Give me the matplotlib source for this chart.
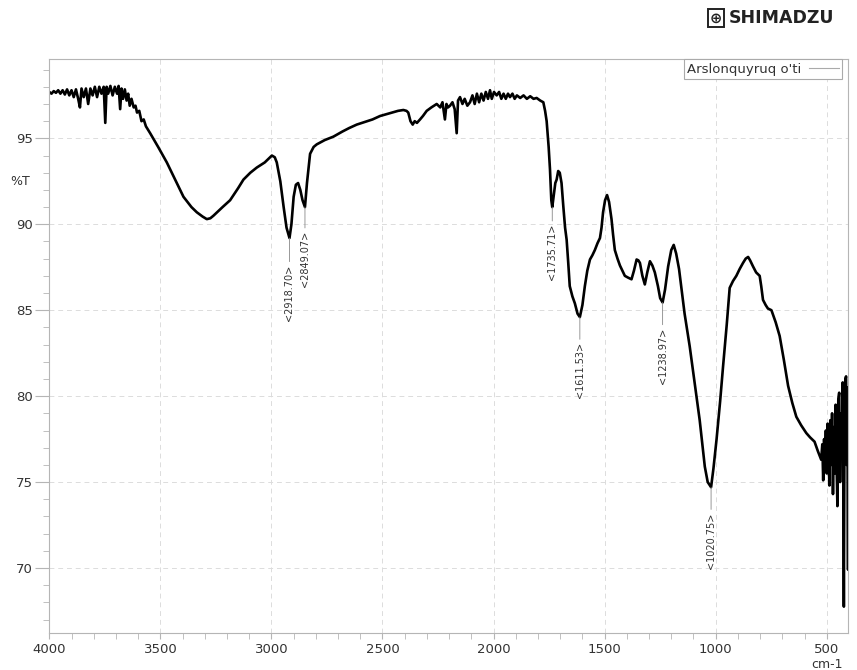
import matplotlib
matplotlib.use("Agg")
import matplotlib.pyplot as plt
from matplotlib.lines import Line2D
from matplotlib.ticker import MultipleLocator

# IR spectrum, wavenumber (cm-1) vs transmittance (%T)
wavenumber = [
    4000, 3990, 3980, 3970, 3960, 3950, 3940, 3930, 3920, 3910, 3900, 3890, 3880, 3870, 3862,
    3855, 3845, 3835, 3825, 3815, 3805, 3795, 3785, 3775, 3765, 3755, 3748, 3742, 3735, 3725,
    3715, 3705, 3695, 3688, 3681, 3675, 3668, 3660, 3652, 3645, 3638, 3630, 3620, 3612, 3605,
    3595, 3585, 3575, 3565, 3546, 3510, 3471, 3430, 3396, 3360, 3336, 3310, 3291, 3275, 3261,
    3220, 3186, 3150, 3126, 3095, 3066, 3030, 3010, 2998, 2985, 2976, 2960, 2945, 2932, 2918.70,
    2910, 2900, 2890, 2880, 2870, 2860, 2849.07, 2840, 2826, 2810, 2796, 2760, 2721, 2680, 2650,
    2616, 2580, 2545, 2511, 2470, 2430, 2406, 2392, 2384, 2374, 2364, 2355, 2345, 2331, 2318,
    2301, 2280, 2256, 2240, 2230, 2219, 2212, 2205, 2196, 2185, 2175, 2166, 2160, 2151, 2140,
    2130, 2118, 2106, 2095, 2085, 2075, 2065, 2055, 2045, 2035, 2025, 2016, 2008, 1998, 1986,
    1975, 1965, 1955, 1945, 1935, 1926, 1915, 1905, 1895, 1880, 1865, 1850, 1835, 1820, 1806,
    1790, 1776, 1768, 1761, 1752, 1746, 1740, 1735.71, 1730, 1722, 1716, 1709, 1702, 1694, 1686,
    1678, 1671, 1664, 1657, 1645, 1634, 1622, 1611.53, 1600, 1589, 1578, 1566, 1555, 1544, 1532,
    1521, 1514, 1507, 1498, 1489, 1480, 1469, 1462, 1454, 1442, 1431, 1420, 1409, 1395, 1379,
    1368, 1356, 1348, 1341, 1330, 1319, 1308, 1296, 1285, 1274, 1260, 1250, 1238.97, 1228, 1214,
    1200, 1189, 1178, 1165, 1140, 1117, 1095, 1072, 1049, 1036, 1020.75, 1010, 996, 980, 967,
    950, 937, 922, 907, 892, 877, 865, 854, 845, 832, 818, 802, 795, 787, 775,
    765, 749, 730, 712, 693, 674, 655, 637, 615, 592, 575, 555, 540, 525, 520,
    516, 512, 508, 504, 500, 496, 492, 488, 484, 480, 476, 472, 468, 464, 460,
    456, 452, 448, 444, 440, 436, 432, 428, 425, 423, 420, 416, 413, 410, 407,
    404, 403,
]
transmittance = [
    97.7, 97.6, 97.75, 97.65, 97.8, 97.6, 97.8, 97.55, 97.85, 97.5, 97.8, 97.4, 97.85, 97.3, 96.8,
    97.9, 97.4, 97.9, 97.0, 97.9, 97.5, 98.0, 97.4, 98.0, 97.6, 98.0, 95.9, 98.0, 97.6, 98.05,
    97.5, 98.0, 97.6, 98.05, 96.7, 97.9, 97.3, 97.85, 97.2, 97.6, 96.9, 97.3, 96.8, 96.9, 96.5,
    96.6, 96.0, 96.1, 95.7, 95.3, 94.5, 93.6, 92.5, 91.6, 91.0, 90.7, 90.45, 90.3, 90.35, 90.5,
    91.0, 91.4, 92.1, 92.6, 93.0, 93.3, 93.6, 93.85, 94.0, 93.9, 93.6, 92.5, 91.0, 89.8, 89.2,
    90.0, 91.6, 92.3, 92.4, 92.0, 91.4, 91.0, 92.4, 94.1, 94.5, 94.65, 94.9, 95.1, 95.4, 95.6,
    95.8, 95.95, 96.1, 96.3, 96.45, 96.6, 96.65, 96.6, 96.5, 96.0, 95.8, 96.0, 95.9, 96.1, 96.3,
    96.6, 96.8, 97.0, 96.8, 97.1, 96.1, 97.0, 96.8, 96.9, 97.1, 96.7, 95.3, 97.2, 97.4, 97.0,
    97.3, 96.9, 97.1, 97.5, 97.0, 97.6, 97.1, 97.6, 97.2, 97.7, 97.3, 97.8, 97.3, 97.7, 97.5,
    97.7, 97.3, 97.6, 97.3, 97.6, 97.4, 97.6, 97.3, 97.5, 97.35, 97.5, 97.3, 97.45, 97.3, 97.35,
    97.2, 97.1, 96.6, 96.0, 94.5, 93.2, 91.4, 91.0, 91.6, 92.4, 92.6, 93.1, 93.0, 92.4, 91.05,
    89.8, 89.1, 87.8, 86.4, 85.8, 85.4, 84.8, 84.6, 85.3, 86.4, 87.3, 87.95, 88.2, 88.5, 88.9,
    89.2, 89.8, 90.7, 91.4, 91.7, 91.3, 90.3, 89.4, 88.5, 88.0, 87.6, 87.3, 87.0, 86.9, 86.8,
    87.3, 87.95, 87.9, 87.75, 87.0, 86.5, 87.2, 87.85, 87.6, 87.2, 86.4, 85.7, 85.45, 86.2, 87.55,
    88.5, 88.8, 88.3, 87.4, 84.8, 82.9, 80.8, 78.6, 75.9, 75.0, 74.7, 75.8, 77.5, 79.7, 81.7,
    84.2, 86.3, 86.7, 87.0, 87.4, 87.75, 88.0, 88.1, 87.9, 87.55, 87.2, 87.0, 86.4, 85.6, 85.3,
    85.1, 85.0, 84.3, 83.5, 82.1, 80.6, 79.6, 78.8, 78.3, 77.85, 77.6, 77.35, 76.8, 76.3, 77.2,
    75.1, 77.5, 76.0, 78.0, 75.5, 78.4, 76.5, 74.8, 78.6, 76.0, 79.0, 74.3, 78.2, 75.5, 79.5,
    76.2, 73.6, 79.8, 80.2, 75.0, 79.0, 77.0, 80.8, 74.0, 67.75, 79.0, 81.0, 81.15, 76.0, 80.5,
    69.9, 78.0,
]

# labelled peaks
peak_wn = [2918.70, 2849.07, 1735.71, 1611.53, 1238.97, 1020.75]
peak_t = [89.2, 91.0, 91.0, 84.6, 85.45, 74.7]
peak_gap = [19, 17, 12, 18, 18, 18]

series_name = "Arslonquyruq o'ti"

grey = "#b5b5b5"
txt = "#333333"

fig = plt.figure(figsize=(8.57, 6.70), dpi=100)
ax = fig.add_axes([49.3 / 857, 1 - 633.3 / 670, 799 / 857, 574 / 670])

ax.plot(wavenumber, transmittance, color="black", lw=1.9, solid_joinstyle="round")

for wn, t, gap in zip(peak_wn, peak_t, peak_gap):
    ax.annotate("<%.2f>" % wn, xy=(wn, t), xytext=(0, -gap), textcoords="offset points",
                rotation=90, ha="center", va="top", fontsize=7, color=txt,
                arrowprops=dict(arrowstyle="-", color="#888888", lw=0.6, shrinkA=0, shrinkB=0))

ax.set_xlim(4000, 403)
ax.set_ylim(66.2, 99.6)
ax.xaxis.set_major_locator(MultipleLocator(500))
ax.xaxis.set_minor_locator(MultipleLocator(100))
ax.yaxis.set_major_locator(MultipleLocator(5))
ax.yaxis.set_minor_locator(MultipleLocator(1))
ax.grid(True, which="major", color="#dcdcdc", ls=(0, (5, 4)), lw=0.7)

for s in ax.spines.values():
    s.set_color(grey)
    s.set_linewidth(0.8)
ax.tick_params(axis="y", which="major", length=10, color=grey, labelsize=9.5, labelcolor=txt, pad=2)
ax.tick_params(axis="y", which="minor", length=4.5, color=grey)
ax.tick_params(axis="x", which="major", length=4, color=grey, labelsize=9.5, labelcolor=txt, pad=3)
ax.tick_params(axis="x", which="minor", length=4, color=grey)

fig.text(20 / 857, 1 - 181.7 / 670, "%T", fontsize=9, color=txt, ha="center", va="center")
fig.text(826.7 / 857, 1 - 668.5 / 670, "cm-1", fontsize=9, color=txt, ha="center", va="baseline")

leg = ax.legend(handles=[Line2D([], [], color="#aaaaaa", lw=0.8)], labels=[series_name],
                loc="upper right", bbox_to_anchor=(1 - 6.5 / 799, 1.0), markerfirst=False,
                fancybox=False, edgecolor="#aaaaaa", framealpha=1, fontsize=9.5,
                borderpad=0.25, handlelength=2.2, handletextpad=0.6, borderaxespad=0)
for t in leg.get_texts():
    t.set_color(txt)
leg.get_frame().set_linewidth(0.8)

# maker logo in the page corner
fig.text(716 / 857, 1 - 18 / 670, "\u2295", fontsize=10.5, fontweight="bold", color="#222222",
         ha="center", va="center",
         bbox=dict(boxstyle="square,pad=0.12", fc="white", ec="#222222", lw=1.4))
fig.text(729 / 857, 1 - 18 / 670, "SHIMADZU", fontsize=12.5, fontweight="heavy", color="#222222",
         ha="left", va="center")

fig.savefig("out.png", dpi=100)
